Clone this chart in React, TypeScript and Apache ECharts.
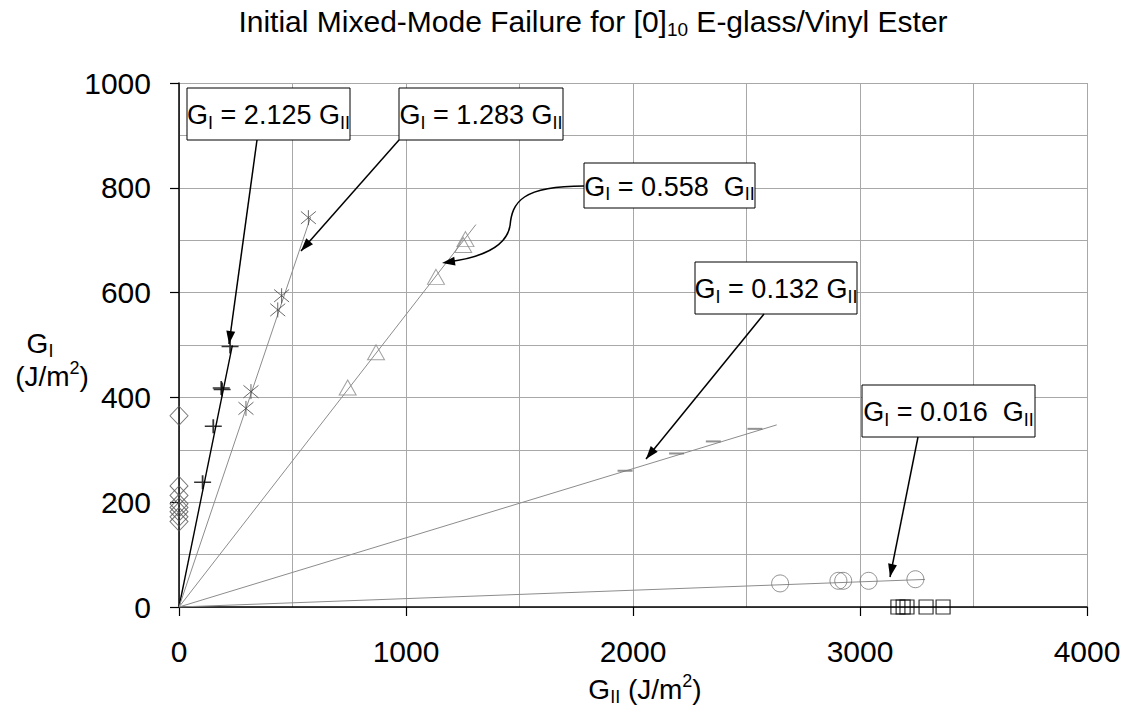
import { useEffect, useRef } from "react";
import * as echarts from "echarts";

// ---- data ----
const xTicks = [0, 1000, 2000, 3000, 4000];
const yTicks = [0, 200, 400, 600, 800, 1000];

const diamondX = [0, 0, 0, 0, 0, 0, 0, 0];
const diamondY = [365, 231, 213, 197, 190, 182, 172, 163];

const plusX = [104, 151, 186, 190, 225];
const plusY = [238, 345, 418, 415, 497];

const starX = [295, 317, 435, 452, 570];
const starY = [379, 411, 567, 594, 743];

const triX = [743, 868, 1132, 1252, 1262];
const triY = [419, 486, 630, 691, 702];

const dashX = [1965, 2192, 2354, 2537];
const dashY = [260, 293, 316, 340];

const circX = [2648, 2905, 2926, 3038, 3244];
const circY = [45, 50, 50, 50, 53];

const sqX = [3167, 3190, 3207, 3291, 3366];
const sqY = [0, 0, 0, 0, 0];

// fitted slopes (G_I = k * G_II) and the G_II where each fit line ends
const slopes = [2.125, 1.283, 0.558, 0.132, 0.016];
const slopeLabels = ["2.125 ", "1.283 ", "0.558  ", "0.132 ", "0.016  "];
const lineEndX = [235, 580, 1308, 2633, 3286];

const FONT = "'Liberation Sans', Arial, sans-serif";

function pts(xs: number[], ys: number[]) {
  return xs.map((x, i) => [x, ys[i]]);
}

function arrowHead(x1: number, y1: number, x2: number, y2: number, len = 13, half = 4.5) {
  const dx = x2 - x1;
  const dy = y2 - y1;
  const d = Math.sqrt(dx * dx + dy * dy);
  const ux = dx / d;
  const uy = dy / d;
  const bx = x2 - ux * len;
  const by = y2 - uy * len;
  return {
    type: "polygon",
    shape: {
      points: [
        [x2, y2],
        [bx - uy * half, by + ux * half],
        [bx + uy * half, by - ux * half],
      ],
    },
    style: { fill: "#000" },
    z: 100,
  };
}

const rich = {
  m: { fontSize: 27, fontFamily: FONT, color: "#000", lineHeight: 33 },
  s: { fontSize: 18, fontFamily: FONT, color: "#000", lineHeight: 18, verticalAlign: "bottom" },
};

function box(x: number, y: number, w: number, h: number, label: string) {
  return [
    {
      type: "rect",
      shape: { x, y, width: w, height: h },
      style: { fill: "#fff", stroke: "#000", lineWidth: 1 },
      z: 90,
    },
    {
      type: "text",
      x: x + w / 2,
      y: y + h / 2 + 1,
      style: {
        text: `{m|G}{s|I}{m| = ${label}G}{s|II}`,
        rich,
        align: "center",
        verticalAlign: "middle",
      },
      z: 95,
    },
  ];
}

function straightArrow(x1: number, y1: number, x2: number, y2: number) {
  return [
    {
      type: "line",
      shape: { x1, y1, x2, y2 },
      style: { stroke: "#000", lineWidth: 1.5 },
      z: 99,
    },
    arrowHead(x1, y1, x2, y2),
  ];
}

export default function App() {
  const ref = useRef<HTMLDivElement>(null);

  useEffect(() => {
    if (!ref.current) return;
    const chart = echarts.init(ref.current, undefined, { renderer: "svg" });

    const lineColors = ["#000", "#8c8c8c", "#8c8c8c", "#8c8c8c", "#8c8c8c"];
    const lineWidths = [1.4, 1, 1, 1, 1];
    const fitSeries = slopes.map((k, i) => ({
      type: "line",
      name: "fit" + i,
      data: [
        [0, 0],
        [lineEndX[i], k * lineEndX[i]],
      ],
      showSymbol: false,
      symbol: "none",
      lineStyle: { color: lineColors[i], width: lineWidths[i] },
      z: 3,
      silent: true,
    }));

    const graphic: any[] = [
      ...box(187, 88, 163, 52, slopeLabels[0]),
      ...straightArrow(257, 140, 229, 344),
      ...box(399, 88, 164, 52, slopeLabels[1]),
      ...straightArrow(399, 140, 301, 251),
      ...box(584, 163, 171, 45, slopeLabels[2]),
      {
        type: "bezierCurve",
        shape: { x1: 584, y1: 186, cpx1: 522, cpy1: 186, cpx2: 512, cpy2: 202, x2: 510, y2: 226 },
        style: { stroke: "#000", lineWidth: 1.5, fill: "none" },
        z: 99,
      },
      {
        type: "bezierCurve",
        shape: { x1: 510, y1: 226, cpx1: 506, cpy1: 248, cpx2: 478, cpy2: 258, x2: 448, y2: 262 },
        style: { stroke: "#000", lineWidth: 1.5, fill: "none" },
        z: 99,
      },
      arrowHead(470, 259, 442, 263),
      ...box(695, 262, 162, 52, slopeLabels[3]),
      ...straightArrow(764, 314, 646, 459),
      ...box(862, 385, 173, 52, slopeLabels[4]),
      ...straightArrow(918, 437, 890, 577),
      // axis titles
      {
        type: "text",
        x: 40,
        y: 343,
        style: {
          text: "{m|G}{s|I}",
          rich: {
            m: { fontSize: 28, fontFamily: FONT, color: "#000", lineHeight: 34 },
            s: { fontSize: 18, fontFamily: FONT, color: "#000", lineHeight: 18, verticalAlign: "bottom" },
          },
          align: "center",
          verticalAlign: "middle",
        },
      },
      {
        type: "text",
        x: 52,
        y: 376,
        style: {
          text: "{m|(J/m}{p|2}{m|)}",
          rich: {
            m: { fontSize: 28, fontFamily: FONT, color: "#000", lineHeight: 34 },
            p: { fontSize: 18, fontFamily: FONT, color: "#000", lineHeight: 18, verticalAlign: "top" },
          },
          align: "center",
          verticalAlign: "middle",
        },
      },
      {
        type: "text",
        x: 645,
        y: 689,
        style: {
          text: "{m|G}{s|II}{m| (J/m}{p|2}{m|)}",
          rich: {
            m: { fontSize: 28, fontFamily: FONT, color: "#000", lineHeight: 34 },
            s: { fontSize: 18, fontFamily: FONT, color: "#000", lineHeight: 18, verticalAlign: "bottom" },
            p: { fontSize: 18, fontFamily: FONT, color: "#000", lineHeight: 18, verticalAlign: "top" },
          },
          align: "center",
          verticalAlign: "middle",
        },
      },
      // title
      {
        type: "text",
        x: 593,
        y: 21,
        style: {
          text: "{m|Initial Mixed-Mode Failure for [0]}{s|10}{m| E-glass/Vinyl Ester}",
          rich: {
            m: { fontSize: 30, fontFamily: FONT, color: "#000", lineHeight: 36, fontWeight: "normal" },
            s: { fontSize: 19, fontFamily: FONT, color: "#000", lineHeight: 19, verticalAlign: "bottom", fontWeight: "normal" },
          },
          align: "center",
          verticalAlign: "middle",
        },
      },
    ];

    const plain = (v: number) => String(v);

    chart.setOption({
      animation: false,
      backgroundColor: "#fff",
      grid: { left: 179, right: 42, top: 83, bottom: 99, containLabel: false },
      xAxis: {
        type: "value",
        min: xTicks[0],
        max: xTicks[xTicks.length - 1],
        interval: 1000,
        axisLine: { show: true, onZero: false, lineStyle: { color: "#000", width: 1.5 } },
        axisTick: { show: true, length: 9, lineStyle: { color: "#000", width: 1.2 } },
        axisLabel: { color: "#000", fontSize: 30, fontFamily: FONT, margin: 29, formatter: plain },
        splitLine: { show: true, lineStyle: { color: "#a8a8a8", width: 1 } },
        minorTick: { show: false, splitNumber: 2 },
        minorSplitLine: { show: true, lineStyle: { color: "#a8a8a8", width: 1 } },
      },
      yAxis: {
        type: "value",
        min: yTicks[0],
        max: yTicks[yTicks.length - 1],
        interval: 200,
        axisLine: { show: true, onZero: false, lineStyle: { color: "#000", width: 1.5 } },
        axisTick: { show: true, length: 9, lineStyle: { color: "#000", width: 1.2 } },
        axisLabel: { color: "#000", fontSize: 30, fontFamily: FONT, margin: 28, formatter: plain },
        splitLine: { show: true, lineStyle: { color: "#a8a8a8", width: 1 } },
        minorTick: { show: false, splitNumber: 2 },
        minorSplitLine: { show: true, lineStyle: { color: "#a8a8a8", width: 1 } },
      },
      series: [
        ...fitSeries,
        {
          type: "scatter",
          name: "diamond",
          data: pts(diamondX, diamondY),
          symbol: "diamond",
          symbolSize: [18, 19],
          itemStyle: { color: "transparent", borderColor: "#555", borderWidth: 1 },
          z: 5,
        },
        {
          type: "scatter",
          name: "plus",
          data: pts(plusX, plusY),
          symbol: "path://M0,5H10M5,0V10",
          symbolSize: [17, 14],
          itemStyle: { color: "transparent", borderColor: "#000", borderWidth: 1.6 },
          z: 5,
        },
        {
          type: "scatter",
          name: "star",
          data: pts(starX, starY),
          symbol: "path://M0,0L10,10M10,0L0,10M5,-1V11",
          symbolSize: [15, 15],
          itemStyle: { color: "transparent", borderColor: "#444", borderWidth: 1 },
          z: 5,
        },
        {
          type: "scatter",
          name: "triangle",
          data: pts(triX, triY),
          symbol: "triangle",
          symbolSize: [17, 15],
          itemStyle: { color: "transparent", borderColor: "#888", borderWidth: 1 },
          z: 5,
        },
        {
          type: "scatter",
          name: "dash",
          data: pts(dashX, dashY),
          symbol: "rect",
          symbolSize: [15, 2],
          itemStyle: { color: "#777" },
          z: 5,
        },
        {
          type: "scatter",
          name: "circle",
          data: pts(circX, circY),
          symbol: "circle",
          symbolSize: 17,
          itemStyle: { color: "transparent", borderColor: "#777", borderWidth: 1 },
          z: 5,
        },
        {
          type: "scatter",
          name: "square",
          data: pts(sqX, sqY),
          symbol: "rect",
          symbolSize: 14,
          itemStyle: { color: "transparent", borderColor: "#000", borderWidth: 1.2 },
          z: 6,
        },
      ],
      graphic,
    });

    return () => chart.dispose();
  }, []);

  return (
    <div
      ref={ref}
      style={{ position: "fixed", left: 0, top: 0, width: 1129, height: 706, background: "#fff" }}
    />
  );
}
